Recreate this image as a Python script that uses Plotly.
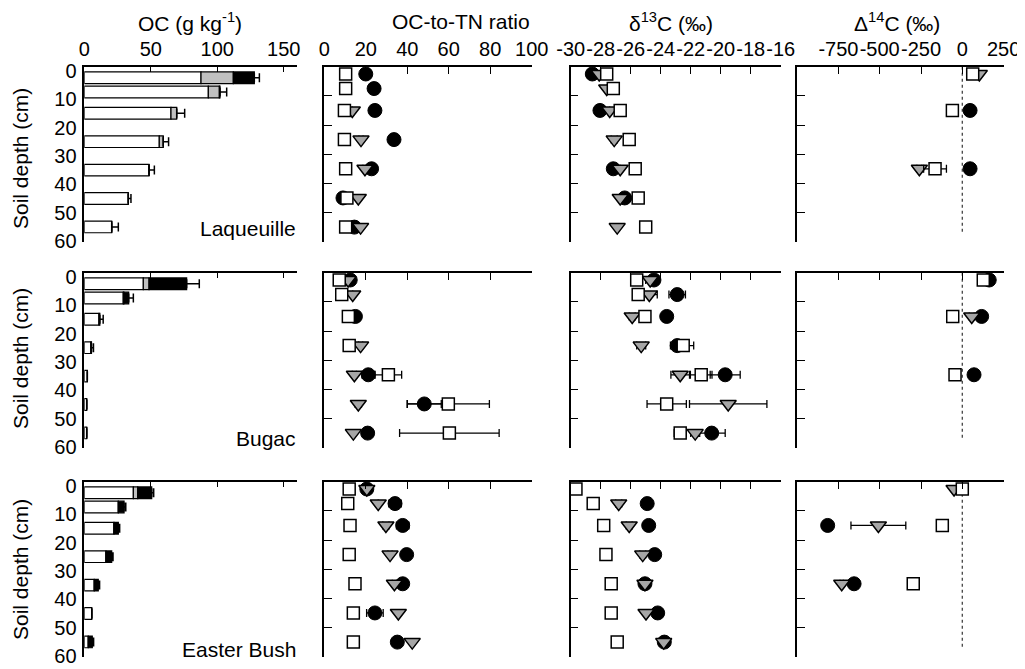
import plotly.graph_objects as go

# ---------------- data ----------------
depths = [2.5, 7.5, 15, 25, 35, 45, 55]
sites = ["Laqueuille", "Bugac", "Easter Bush"]

# OC (g kg-1): stacked components per site (white, grey, black) and error
oc_white = [[87.8, 93.3, 65.2, 56.4, 48.7, 33.1, 20.6],
            [44.4, 29.3, 11.1, 5.0, 2.3, 1.8, 1.8],
            [36.9, 25.6, 22.3, 16.3, 7.5, 5.6, 3.0]]
oc_grey = [[24.3, 8.3, 4.3, 3.0, 0, 0, 0],
           [4.3, 0.5, 0, 0, 0, 0, 0],
           [3.3, 0, 0, 0, 0, 0, 0]]
oc_black = [[15.8, 0.5, 0, 0, 0, 0, 0],
            [28.3, 3.6, 0.6, 0.4, 0, 0, 0],
            [10.5, 4.3, 3.3, 4.3, 3.0, 0, 3.0]]
oc_err = [[3.8, 5.0, 6.0, 4.0, 4.0, 2.0, 5.0],
          [9.5, 3.5, 2.5, 1.5, 0, 0, 0],
          [1.5, 1.3, 1.0, 1.0, 1.0, 0, 1.0]]

# OC-to-TN ratio
cn_sq = [[10.3, 10.3, 9.7, 9.7, 10.3, 10.9, 10.3],
         [7.2, 8.4, 11.6, 12.0, 30.9, 59.8, 60.3],
         [12.0, 11.3, 12.4, 12.0, 14.8, 14.0, 14.0]]
cn_sq_err = [[0, 0, 0, 0, 0, 0, 0],
             [0, 0, 0, 0, 6.4, 19.8, 24.0],
             [0, 0, 0, 0, 0, 0, 0]]
cn_tri = [[None, None, 13.5, 17.7, 19.6, 16.4, 17.5],
          [11.5, 13.7, None, 17.5, 14.5, 16.4, 14.0],
          [20.5, 26.0, 29.7, 31.7, 33.8, 35.7, 42.4]]
cn_tri_err = [[0, 0, 0, 1.0, 1.0, 0, 0],
              [0, 0, 0, 1.0, 1.0, 1.5, 1.0],
              [0, 0, 1.5, 1.0, 1.0, 1.0, 1.0]]
cn_cir = [[20.0, 24.0, 24.4, 33.6, 22.8, 9.0, 14.5],
          [12.5, None, 15.0, None, 21.2, 48.2, 20.9],
          [20.5, 34.1, 37.8, 39.7, 37.8, 24.4, 35.2]]
cn_cir_err = [[0, 0, 0, 2.0, 1.0, 0, 0],
              [0, 0, 0, 0, 3.0, 8.2, 1.0],
              [0, 3.0, 3.0, 0, 0, 4.0, 0]]

# delta 13C (permil)
d13_sq = [[-27.6, -27.16, -26.7, -26.1, -25.7, -25.5, -25.0],
          [-25.6, -25.5, -25.05, -22.5, -21.3, -23.6, -22.7],
          [-29.65, -28.5, -27.8, -27.65, -27.3, -27.3, -26.9]]
d13_sq_err = [[0, 0, 0, 0, 0, 0, 0],
              [0.1, 0.1, 0, 0.7, 0.72, 1.31, 0.4],
              [0, 0, 0, 0, 0, 0, 0]]
d13_tri = [[-28.1, -27.6, -27.4, -27.1, -26.7, -26.7, -26.9],
           [-24.7, -24.76, -25.9, -25.3, -22.7, -19.5, -21.7],
           [None, -26.8, -26.1, -25.2, -25.05, -24.98, -23.8]]
d13_tri_err = [[0, 0, 0, 0.2, 0, 0, 0],
               [0.3, 0.53, 0.2, 0.3, 0.62, 2.58, 0.3],
               [0, 0.2, 0.2, 0.2, 0, 0, 0.2]]
d13_cir = [[-28.56, None, -28.05, None, -27.16, -26.4, None],
           [-24.45, -22.9, -23.6, -22.9, -19.7, None, -20.6],
           [None, -24.9, -24.8, -24.4, -25.05, -24.2, -23.76]]
d13_cir_err = [[0, 0, 0, 0, 0, 0, 0],
               [0.3, 0.55, 0, 0.45, 1.0, 0, 0.9],
               [0, 0, 0, 0, 0, 0, 0]]

# Delta 14C (permil)
D14_sq = [[63, None, -60, None, -165, None, None],
          [127, None, -58, None, -44, None, None],
          [0, None, -121, None, -297, None, None]]
D14_sq_err = [[0, 0, 20, 0, 69, 0, 0],
              [0, 0, 10, 0, 10, 0, 0],
              [10, 0, 25, 0, 0, 0, 0]]
D14_tri = [[103, None, None, None, -260, None, None],
           [None, None, 57, None, None, None, None],
           [-50, None, -508, None, -730, None, None]]
D14_tri_err = [[0, 0, 0, 0, 15, 0, 0],
               [0, 0, 15, 0, 0, 0, 0],
               [15, 0, 166, 0, 10, 0, 0]]
D14_cir = [[None, None, 47, None, 47, None, None],
           [163, None, 117, None, 71, None, None],
           [None, None, -815, None, -655, None, None]]

col_titles = ["OC (g kg<sup>-1</sup>)", "OC-to-TN ratio",
              "δ<sup>13</sup>C (‰)", "Δ<sup>14</sup>C (‰)"]
x_ranges = [[0, 160], [0, 100], [-30, -16], [-1000, 250]]
x_ticks = [[0, 50, 100, 150], [0, 20, 40, 60, 80, 100],
           [-30, -28, -26, -24, -22, -20, -18, -16],
           [-750, -500, -250, 0, 250]]
x_ticktext = [["0", "50", "100", "150"], ["0", "20", "40", "60", "80", "100"],
              ["-30", "-28", "-26", "-24", "-22", "-20", "-18", "-16"],
              ["-750", "-500", "-250", "0", "250"]]
depth_ticks = [0, 10, 20, 30, 40, 50, 60]

# ---------------- layout geometry ----------------
# the page body has an 8 px margin, so the figure is placed at (8, 8)
OFF = 8
W, H = 1025, 669
FONT = "Liberation Sans, Arial, sans-serif"
col_px = [(84.3, 297.0), (324.3, 531.7), (570.7, 780.7), (797.1, 1003.6)]
row_px = [(66.7, 241.7), (272.7, 447.7), (481.7, 656.7)]

def px_x(p):
    return (p - OFF) / W

def px_y(p):
    return 1 - (p - OFF) / H

def xdom(l, r):
    return [px_x(l), px_x(r)]

def ydom(t, b):
    return [px_y(b), px_y(t)]

fig = go.Figure()
layout = dict(template="none", width=W, height=H,
              margin=dict(l=0, r=0, t=0, b=0, autoexpand=False),
              paper_bgcolor="white", plot_bgcolor="white",
              showlegend=False, barmode="overlay",
              font=dict(family=FONT, size=20, color="black"))

GREY_TRI = "#a6a6a6"
GREY_BAR = "#c0c0c0"
TICKFONT = dict(family=FONT, size=20, color="black")

def err(arr):
    return dict(type="data", array=arr, visible=True, color="black",
                thickness=1.3, width=4)

shapes = []
for r in range(3):
    for c in range(4):
        idx = r * 4 + c + 1
        xa = "x" if idx == 1 else f"x{idx}"
        ya = "y" if idx == 1 else f"y{idx}"
        xkey = "xaxis" if idx == 1 else f"xaxis{idx}"
        ykey = "yaxis" if idx == 1 else f"yaxis{idx}"
        layout[xkey] = dict(domain=xdom(*col_px[c]), anchor=ya, side="top",
                            range=x_ranges[c], tickmode="array",
                            tickvals=x_ticks[c], ticktext=x_ticktext[c],
                            ticks="inside", ticklen=8 if c else 6,
                            tickwidth=1.3, tickcolor="black", tickangle=0,
                            showline=True, linecolor="black", linewidth=1.5,
                            showgrid=False, zeroline=False, automargin=False,
                            showticklabels=(r == 0), tickfont=TICKFONT,
                            ticklabelstandoff=1, ticklabeloverflow="allow")
        if c == 0:
            layout[ykey] = dict(domain=ydom(*row_px[r]), anchor=xa,
                                range=[60.2, -1.4], tickmode="array",
                                tickvals=depth_ticks,
                                ticktext=[str(v) for v in depth_ticks],
                                ticks="", showline=True, linecolor="black",
                                linewidth=1.5, showgrid=False, zeroline=False,
                                automargin=False, tickfont=TICKFONT, tickangle=0,
                                ticklabelstandoff=2, ticklabeloverflow="allow")
        else:
            layout[ykey] = dict(domain=ydom(*row_px[r]), anchor=xa,
                                range=[60, 0], tickmode="array",
                                tickvals=depth_ticks[1:],
                                ticks="inside", ticklen=8, tickwidth=1.3,
                                tickcolor="black", showticklabels=False,
                                showline=True, linecolor="black", linewidth=1.5,
                                showgrid=False, zeroline=False, automargin=False)

        if c == 0:
            white = oc_white[r]
            grey = oc_grey[r]
            black = oc_black[r]
            base3 = [w + g for w, g in zip(white, grey)]
            total = [w + g + b for w, g, b in zip(white, grey, black)]
            fig.add_trace(go.Bar(x=white, y=depths, orientation="h", width=4.1,
                                 marker=dict(color="white", line=dict(color="black", width=1.2)),
                                 xaxis=xa, yaxis=ya))
            fig.add_trace(go.Bar(x=grey, y=depths, base=white, orientation="h", width=4.1,
                                 marker=dict(color=GREY_BAR, line=dict(color="black", width=1.2)),
                                 xaxis=xa, yaxis=ya))
            fig.add_trace(go.Bar(x=black, y=depths, base=base3, orientation="h", width=4.1,
                                 marker=dict(color="black", line=dict(color="black", width=1.2)),
                                 xaxis=xa, yaxis=ya))
            fig.add_trace(go.Scatter(x=total, y=depths, mode="markers",
                                     marker=dict(size=1, opacity=0),
                                     error_x=dict(type="data", array=oc_err[r], symmetric=False,
                                                  arrayminus=[0] * len(depths), visible=True,
                                                  color="black", thickness=1.5, width=4.5),
                                     xaxis=xa, yaxis=ya))
        else:
            if c == 1:
                sq, sqe, tri, trie, cir, cire = (cn_sq[r], cn_sq_err[r], cn_tri[r],
                                                 cn_tri_err[r], cn_cir[r], cn_cir_err[r])
            elif c == 2:
                sq, sqe, tri, trie, cir, cire = (d13_sq[r], d13_sq_err[r], d13_tri[r],
                                                 d13_tri_err[r], d13_cir[r], d13_cir_err[r])
            else:
                sq, sqe, tri, trie, cir, cire = (D14_sq[r], D14_sq_err[r], D14_tri[r],
                                                 D14_tri_err[r], D14_cir[r], [0] * 7)
                shapes.append(dict(type="line", xref=xa, yref=ya, x0=0, x1=0, y0=0, y1=57,
                                   line=dict(color="#444444", width=1.3, dash="dot"),
                                   layer="below"))
            fig.add_trace(go.Scatter(x=cir, y=depths, mode="markers",
                                     marker=dict(symbol="circle", size=14, color="black",
                                                 line=dict(color="black", width=1)),
                                     error_x=err(cire), xaxis=xa, yaxis=ya))
            fig.add_trace(go.Scatter(x=tri, y=depths, mode="markers",
                                     marker=dict(symbol="triangle-down", size=14, color=GREY_TRI,
                                                 line=dict(color="black", width=1.5)),
                                     error_x=err(trie), xaxis=xa, yaxis=ya))
            fig.add_trace(go.Scatter(x=sq, y=depths, mode="markers",
                                     marker=dict(symbol="square", size=12, color="white",
                                                 line=dict(color="black", width=1.5)),
                                     error_x=err(sqe), xaxis=xa, yaxis=ya))

annotations = []
title_x = [190, 461, 671, 897]
for c in range(4):
    annotations.append(dict(text=col_titles[c], x=px_x(title_x[c]), y=px_y(22),
                            xref="paper", yref="paper", showarrow=False,
                            xanchor="center", yanchor="middle",
                            font=dict(family=FONT, size=21, color="black")))
ylab_y = [159, 359, 570]
site_y = [228, 438, 649]
for r in range(3):
    annotations.append(dict(text="Soil depth (cm)", x=px_x(20), y=px_y(ylab_y[r]),
                            xref="paper", yref="paper", showarrow=False, textangle=-90,
                            xanchor="center", yanchor="middle",
                            font=dict(family=FONT, size=21, color="black")))
    annotations.append(dict(text=sites[r], x=px_x(298), y=px_y(site_y[r]),
                            xref="paper", yref="paper", showarrow=False,
                            xanchor="right", yanchor="middle",
                            font=dict(family=FONT, size=21, color="black")))

layout["annotations"] = annotations
layout["shapes"] = shapes
fig.update_layout(**layout)
fig.write_html("out.html")
